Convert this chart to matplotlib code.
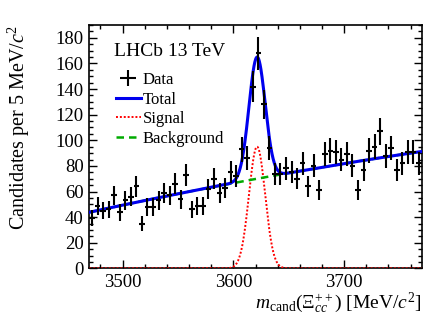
import numpy as np
import matplotlib
matplotlib.use("Agg")
import matplotlib.pyplot as plt
from matplotlib.ticker import MultipleLocator
from matplotlib.lines import Line2D

plt.rcParams["font.family"] = ["Liberation Serif", "DejaVu Serif"]
plt.rcParams["mathtext.fontset"] = "custom"
plt.rcParams["mathtext.rm"] = "Liberation Serif"
plt.rcParams["mathtext.it"] = "Liberation Serif:italic"

# Binned data, 5 MeV bins from 3470 to 3770
bin_lo = 3470
bin_width = 5
counts = [39, 49, 45, 46, 57, 44, 53, 56, 64, 35,
          48, 48, 53, 59, 57, 66, 54, 73, 46, 49,
          49, 62, 70, 59, 63, 75, 72, 93, 86, 142,
          168, 128, 94, 74, 74, 78, 75, 70, 82, 64,
          80, 61, 89, 92, 91, 85, 89, 80, 61, 77,
          92, 95, 107, 88, 94, 77, 82, 91, 91, 82]

# Fit components
sig_mean = 3621.4
sig_sigma = 7.3
sig_peak = 95.0
bkg_coef = [43.8, 0.1882, -9.97e-5]  # polynomial in (m - 3470)

counts = np.array(counts)
centres = bin_lo + bin_width * (np.arange(len(counts)) + 0.5)

m = np.linspace(3470, 3770, 1200)
t = m - bin_lo
bkg = bkg_coef[0] + bkg_coef[1] * t + bkg_coef[2] * t**2
sig = sig_peak * np.exp(-0.5 * ((m - sig_mean) / sig_sigma) ** 2)
total = bkg + sig

fig = plt.figure(figsize=(4.43, 3.21), dpi=100)
ax = fig.add_axes([0.2016, 0.164, 0.7504, 0.758])

ax.errorbar(centres, counts, xerr=bin_width / 2, yerr=np.sqrt(counts),
            fmt="none", ecolor="black", elinewidth=1.5, capsize=0, zorder=5)
ax.plot(m, total, color="#0000ee", lw=2.2, zorder=4)
ax.plot(m, sig, color="red", lw=1.4, ls=(0, (1, 1)), zorder=3)
ax.plot(m, bkg, color="#00aa00", lw=1.8, ls=(0, (3, 2)), zorder=3)

ax.set_xlim(3470, 3770)
ax.set_ylim(0, 190)
ax.xaxis.set_major_locator(MultipleLocator(100))
ax.xaxis.set_minor_locator(MultipleLocator(20))
ax.yaxis.set_major_locator(MultipleLocator(20))
ax.yaxis.set_minor_locator(MultipleLocator(5))
ax.tick_params(which="both", direction="in", top=True, right=True,
               labelsize=13.5, width=1)
ax.tick_params(which="major", length=6, pad=4)
ax.tick_params(which="minor", length=3)
for s in ax.spines.values():
    s.set_linewidth(1.2)

ax.set_ylabel("Candidates per 5 MeV/$c^2$", fontsize=14.5, loc="top")
ax.yaxis.set_label_coords(-0.172, 1.0)
ax.set_xlabel(r"$m_{\rm cand}(\mathit{Ξ}_{cc}^{++})$ [MeV/$c^2$]",
              fontsize=14, loc="right")
ax.xaxis.set_label_coords(1.0, -0.092)

ax.text(0.075, 0.89, "LHCb 13 TeV", transform=ax.transAxes, fontsize=14,
        va="center", ha="left")

handles = [
    Line2D([], [], color="black", marker="+", markersize=12, mew=1.5, ls="none"),
    Line2D([], [], color="#0000ee", lw=2.2),
    Line2D([], [], color="red", lw=1.4, ls=(0, (1, 1))),
    Line2D([], [], color="#00aa00", lw=1.8, ls=(0, (3, 2))),
]
labels = ["Data", "Total", "Signal", "Background"]
ax.legend(handles, labels, loc="upper left", bbox_to_anchor=(0.06, 0.835),
          frameon=False, fontsize=12, handlelength=1.5, handletextpad=0.1,
          labelspacing=0.22, borderaxespad=0)

fig.savefig("out.png", dpi=100)
